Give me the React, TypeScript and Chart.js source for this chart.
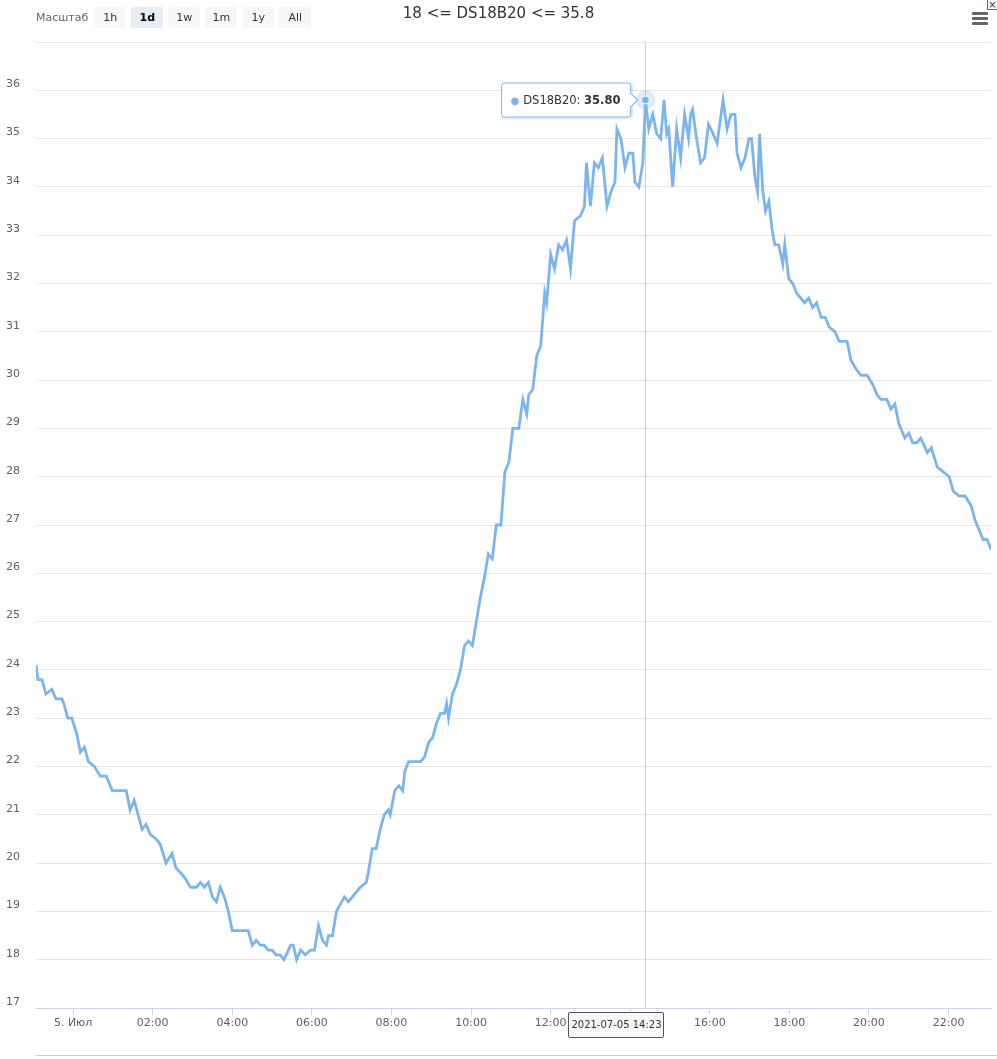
import React, { useEffect, useRef } from 'react';
import { Chart, registerables } from 'chart.js';

Chart.register(...registerables);

// ---- data ----
const TITLE_TEXT = '18 <= DS18B20 <= 35.8';
const SERIES_NAME = 'DS18B20';
const DAY_LABEL = '5. Июл';
const DATE_TEXT = '2021-07-05';
const RANGE_LABEL = 'Масштаб';
const RANGE_BUTTONS = ['1h', '1d', '1w', '1m', '1y', 'All'];
const SELECTED_BUTTON = '1d';

// minutes from 00:00 on 5 July (negative = 4 July)
const TIMES = [
  -56, -53, -47, -41, -32, -26, -17, -14, -8, -2,
  5, 11, 17, 23, 32, 41, 50, 59, 71, 80,
  86, 92, 98, 104, 110, 116, 125, 131, 140, 149,
  155, 162, 168, 177, 186, 192, 198, 204, 210, 216,
  222, 228, 234, 240, 246, 258, 264, 270, 276, 282,
  288, 294, 300, 306, 312, 318, 328, 332, 337, 343,
  350, 358, 364, 370, 376, 382, 385, 391, 397, 409,
  415, 421, 433, 442, 445, 451, 457, 463, 469, 475,
  478, 485, 491, 497, 500, 506, 512, 524, 530, 536,
  542, 548, 554, 560, 563, 566, 572, 578, 584, 590,
  596, 602, 608, 614, 620, 626, 632, 638, 645, 651,
  657, 663, 672, 678, 684, 687, 693, 699, 705, 711,
  714, 720, 726, 732, 738, 744, 750, 756, 765, 771,
  774, 780, 786, 792, 798, 805, 811, 817, 820, 826,
  832, 838, 844, 847, 853, 859, 863, 868, 874, 880,
  886, 891, 895, 898, 904, 910, 916, 922, 928, 931,
  934, 940, 946, 952, 958, 965, 971, 980, 986, 992,
  998, 1001, 1007, 1013, 1019, 1023, 1028, 1032, 1035, 1040,
  1044, 1049, 1054, 1058, 1064, 1070, 1073, 1079, 1085, 1091,
  1097, 1103, 1109, 1115, 1121, 1128, 1134, 1140, 1149, 1155,
  1167, 1173, 1182, 1188, 1197, 1206, 1212, 1218, 1227, 1233,
  1239, 1245, 1254, 1260, 1266, 1272, 1278, 1288, 1294, 1303,
  1312, 1321, 1327, 1336, 1345, 1354, 1360, 1366, 1372, 1378,
  1384,
];

const VALUES = [
  24.1, 23.8, 23.8, 23.5, 23.6, 23.4, 23.4, 23.3, 23.0, 23.0,
  22.7, 22.3, 22.4, 22.1, 22.0, 21.8, 21.8, 21.5, 21.5, 21.5,
  21.1, 21.3, 21.0, 20.7, 20.8, 20.6, 20.5, 20.4, 20.0, 20.2,
  19.9, 19.8, 19.7, 19.5, 19.5, 19.6, 19.5, 19.6, 19.3, 19.2,
  19.5, 19.3, 19.0, 18.6, 18.6, 18.6, 18.6, 18.3, 18.4, 18.3,
  18.3, 18.2, 18.2, 18.1, 18.1, 18.0, 18.3, 18.3, 18.0, 18.2,
  18.1, 18.2, 18.2, 18.7, 18.4, 18.3, 18.5, 18.5, 19.0, 19.3,
  19.2, 19.3, 19.5, 19.6, 19.8, 20.3, 20.3, 20.7, 21.0, 21.1,
  21.0, 21.5, 21.6, 21.5, 21.9, 22.1, 22.1, 22.1, 22.2, 22.5,
  22.6, 22.9, 23.1, 23.1, 23.3, 23.0, 23.5, 23.7, 24.0, 24.5,
  24.6, 24.5, 25.0, 25.5, 25.9, 26.4, 26.3, 27.0, 27.0, 28.1,
  28.3, 29.0, 29.0, 29.6, 29.3, 29.7, 29.8, 30.5, 30.7, 31.8,
  31.6, 32.6, 32.3, 32.8, 32.7, 32.9, 32.3, 33.3, 33.4, 33.6,
  34.5, 33.6, 34.5, 34.4, 34.6, 33.6, 33.9, 34.1, 35.2, 35.0,
  34.4, 34.7, 34.7, 34.1, 34.0, 34.5, 35.8, 35.2, 35.5, 35.1,
  35.0, 35.8, 35.1, 35.2, 34.0, 35.2, 34.6, 35.5, 35.0, 35.5,
  35.6, 35.0, 34.5, 34.6, 35.3, 35.1, 34.9, 35.8, 35.2, 35.5,
  35.5, 34.7, 34.4, 34.6, 35.0, 35.0, 34.2, 33.9, 35.1, 33.9,
  33.5, 33.7, 33.1, 32.8, 32.8, 32.4, 32.8, 32.1, 32.0, 31.8,
  31.7, 31.6, 31.7, 31.5, 31.6, 31.3, 31.3, 31.1, 31.0, 30.8,
  30.8, 30.4, 30.2, 30.1, 30.1, 29.9, 29.7, 29.6, 29.6, 29.4,
  29.5, 29.1, 28.8, 28.9, 28.7, 28.7, 28.8, 28.5, 28.6, 28.2,
  28.1, 28.0, 27.7, 27.6, 27.6, 27.4, 27.1, 26.9, 26.7, 26.7,
  26.5,
];

// x-axis tick positions (minutes from 00:00 on 5 July)
const X_TICKS = [0, 120, 240, 360, 480, 600, 720, 840, 960, 1080, 1200, 1320];

const HOVER_TIME = 863;
const X_MIN = -56;
const X_MAX = 1384;
const Y_MIN = 17;
const Y_MAX = 37;

const COLOR = '#7cb5ec';
const FONT = "'DejaVu Sans', Verdana, sans-serif";

function hhmm(m: number): string {
  const mm = ((Math.round(m) % 1440) + 1440) % 1440;
  const h = Math.floor(mm / 60);
  const mi = mm % 60;
  return String(h).padStart(2, '0') + ':' + String(mi).padStart(2, '0');
}

const hoverDecor = {
  id: 'hoverDecor',
  beforeDatasetsDraw(chart: any) {
    const act = chart.getActiveElements();
    if (!act.length) return;
    const el = chart.getDatasetMeta(act[0].datasetIndex).data[act[0].index];
    const { top, bottom } = chart.chartArea;
    const ctx = chart.ctx;
    ctx.save();
    ctx.strokeStyle = '#cccccc';
    ctx.lineWidth = 1;
    ctx.beginPath();
    const x = Math.round(el.x) + 0.5;
    ctx.moveTo(x, top);
    ctx.lineTo(x, bottom);
    ctx.stroke();
    ctx.restore();
  },
  afterDatasetsDraw(chart: any) {
    const act = chart.getActiveElements();
    if (!act.length) return;
    const el = chart.getDatasetMeta(act[0].datasetIndex).data[act[0].index];
    const ctx = chart.ctx;
    ctx.save();
    ctx.fillStyle = 'rgba(124,181,236,0.25)';
    ctx.beginPath();
    ctx.arc(el.x, el.y, 10, 0, Math.PI * 2);
    ctx.fill();
    ctx.fillStyle = COLOR;
    ctx.strokeStyle = '#ffffff';
    ctx.lineWidth = 1;
    ctx.beginPath();
    ctx.arc(el.x, el.y, 4, 0, Math.PI * 2);
    ctx.fill();
    ctx.stroke();
    ctx.restore();
  },
};

export default function App() {
  const canvasRef = useRef<HTMLCanvasElement>(null);
  const tipRef = useRef<HTMLDivElement>(null);
  const tipValRef = useRef<HTMLSpanElement>(null);
  const headRef = useRef<HTMLDivElement>(null);

  useEffect(() => {
    if (!canvasRef.current) return;
    const data = TIMES.map((t, i) => ({ x: t, y: VALUES[i] }));

    const external = ({ chart, tooltip }: any) => {
      const tip = tipRef.current;
      const head = headRef.current;
      if (!tip || !head) return;
      if (tooltip.opacity === 0 || !tooltip.dataPoints || !tooltip.dataPoints.length) {
        tip.style.display = 'none';
        head.style.display = 'none';
        return;
      }
      const dp = tooltip.dataPoints[0];
      if (tipValRef.current) tipValRef.current.textContent = dp.parsed.y.toFixed(2);
      head.textContent = DATE_TEXT + ' ' + hhmm(dp.parsed.x);
      tip.style.display = 'block';
      tip.style.left = tooltip.caretX - 14 + 'px';
      tip.style.top = tooltip.caretY + 'px';
      head.style.display = 'block';
      head.style.left = tooltip.caretX - 77 + 'px';
      head.style.top = chart.chartArea.bottom + 4 + 'px';
    };

    const chart = new Chart(canvasRef.current, {
      type: 'line',
      data: {
        datasets: [
          {
            label: SERIES_NAME,
            data,
            borderColor: COLOR,
            backgroundColor: COLOR,
            borderWidth: 2.8,
            pointRadius: 0,
            pointHoverRadius: 0,
            tension: 0,
            fill: false,
          },
        ],
      },
      options: {
        responsive: false,
        animation: false,
        events: [],
        devicePixelRatio: 1,
        layout: { padding: { top: 42, right: 6, left: 0, bottom: 0 } },
        plugins: {
          legend: { display: false },
          title: { display: false },
          tooltip: {
            enabled: false,
            mode: 'nearest',
            intersect: false,
            external,
          },
        },
        scales: {
          x: {
            type: 'linear',
            min: X_MIN,
            max: X_MAX,
            afterBuildTicks: (s: any) => {
              s.ticks = X_TICKS.map((v) => ({ value: v }));
            },
            afterFit: (s: any) => {
              s.height = 51;
              s.paddingLeft = 0;
              s.paddingRight = 0;
            },
            grid: {
              drawOnChartArea: false,
              drawTicks: true,
              tickLength: 7,
              color: '#ccd6eb',
            },
            border: { display: true, color: '#ccd6eb', width: 1 },
            ticks: {
              autoSkip: false,
              maxRotation: 0,
              padding: 2,
              color: '#606060',
              font: { family: FONT, size: 11 },
              callback: (v: any) => (Number(v) === 0 ? DAY_LABEL : hhmm(Number(v))),
            },
          },
          y: {
            type: 'linear',
            min: Y_MIN,
            max: Y_MAX,
            afterFit: (s: any) => {
              s.width = 36;
            },
            grid: { color: '#e6e6e6', drawTicks: false, lineWidth: 1 },
            border: { display: false },
            ticks: {
              stepSize: 1,
              padding: 16,
              labelOffset: -6,
              color: '#606060',
              font: { family: FONT, size: 11 },
              callback: (v: any) => (Number(v) === Y_MAX ? '' : String(v)),
            },
          },
        },
      },
      plugins: [hoverDecor],
    } as any);

    const idx = TIMES.indexOf(HOVER_TIME);
    if (idx >= 0) {
      const el: any = chart.getDatasetMeta(0).data[idx];
      const act = [{ datasetIndex: 0, index: idx }];
      chart.setActiveElements(act);
      chart.tooltip?.setActiveElements(act, { x: el.x, y: el.y });
      chart.update('none');
    }

    return () => chart.destroy();
  }, []);

  const btnBase: React.CSSProperties = {
    width: 32,
    height: 21,
    marginRight: 5,
    borderRadius: 2,
    background: '#f7f7f7',
    color: '#333333',
    fontSize: 11,
    lineHeight: '21px',
    textAlign: 'center',
  };

  return (
    <div
      style={{
        position: 'absolute',
        left: 0,
        top: 0,
        width: 997,
        height: 1059,
        overflow: 'hidden',
        background: '#ffffff',
        fontFamily: FONT,
      }}
    >
      <canvas ref={canvasRef} width={997} height={1059} style={{ position: 'absolute', left: 0, top: 0, width: 997, height: 1059 }} />

      <div
        style={{
          position: 'absolute',
          left: 0,
          top: 4,
          width: 997,
          textAlign: 'center',
          fontSize: 15,
          color: '#333333',
          lineHeight: '18px',
        }}
      >
        {TITLE_TEXT}
      </div>

      <div style={{ position: 'absolute', left: 36, top: 7, display: 'flex', alignItems: 'center' }}>
        <div style={{ fontSize: 11, color: '#666666', marginRight: 6, lineHeight: '21px' }}>{RANGE_LABEL}</div>
        {RANGE_BUTTONS.map((b) => (
          <div
            key={b}
            style={
              b === SELECTED_BUTTON
                ? { ...btnBase, background: '#e6ebf5', color: '#000000', fontWeight: 'bold' }
                : btnBase
            }
          >
            {b}
          </div>
        ))}
      </div>

      {[0, 1, 2].map((i) => (
        <div
          key={i}
          style={{
            position: 'absolute',
            left: 972,
            top: 12 + i * 5,
            width: 16,
            height: 2.5,
            background: '#666666',
            borderRadius: 1,
          }}
        />
      ))}
      <div
        style={{
          position: 'absolute',
          left: 987,
          top: -1,
          width: 9,
          height: 9,
          border: '1px solid #666',
          fontSize: 10,
          lineHeight: '9px',
          textAlign: 'center',
          color: '#333',
          background: '#fff',
        }}
      >
        ×
      </div>

      <div style={{ position: 'absolute', left: 36, top: 1055, width: 961, height: 1, background: '#cccccc' }} />

      <div
        ref={tipRef}
        style={{
          position: 'absolute',
          display: 'none',
          transform: 'translate(-100%, -50%)',
          background: 'rgba(255,255,255,0.95)',
          border: `1px solid ${COLOR}`,
          borderRadius: 3,
          padding: '9px 10px 9px 8px',
          fontSize: 11.5,
          color: '#333333',
          whiteSpace: 'nowrap',
          boxShadow: '1px 1px 2px rgba(0,0,0,0.12)',
          lineHeight: '15px',
        }}
      >
        <span style={{ color: COLOR, fontSize: 10, marginRight: 4 }}>●</span>
        <span>{SERIES_NAME}: </span>
        <span ref={tipValRef} style={{ fontWeight: 'bold' }} />
        <div
          style={{
            position: 'absolute',
            right: -6,
            top: '50%',
            width: 10,
            height: 10,
            marginTop: -5,
            background: '#ffffff',
            borderTop: `1px solid ${COLOR}`,
            borderRight: `1px solid ${COLOR}`,
            transform: 'rotate(45deg)',
          }}
        />
      </div>

      <div
        ref={headRef}
        style={{
          position: 'absolute',
          display: 'none',
          width: 94,
          height: 24,
          lineHeight: '24px',
          textAlign: 'center',
          background: 'rgba(247,247,247,0.95)',
          border: '1px solid #555555',
          borderRadius: 2,
          fontSize: 10,
          color: '#333333',
          whiteSpace: 'nowrap',
        }}
      />
    </div>
  );
}
